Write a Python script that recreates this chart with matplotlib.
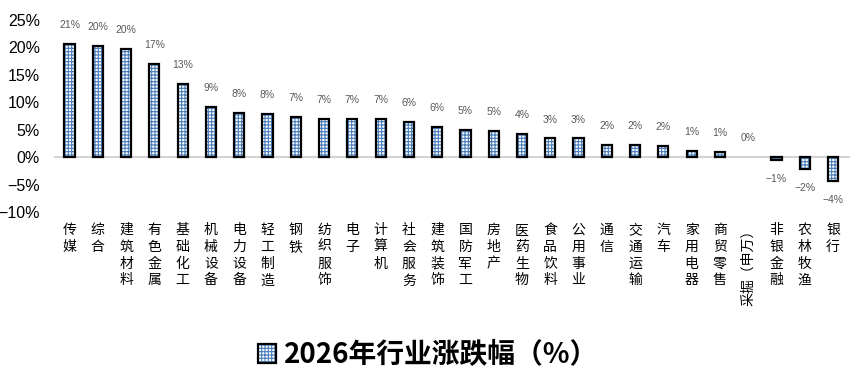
"""
2026 industry returns, bar chart with grid-hatched bars.
"""
import matplotlib
matplotlib.use("Agg")
import matplotlib.pyplot as plt
from matplotlib.patches import Patch
from matplotlib.legend_handler import HandlerTuple
from matplotlib.ticker import FuncFormatter

plt.rcParams['font.family'] = ['Noto Sans CJK SC', 'DejaVu Sans']
plt.rcParams['hatch.linewidth'] = 0.8

industries = ["传媒", "综合", "建筑材料", "有色金属", "基础化工", "机械设备", "电力设备",
              "轻工制造", "钢铁", "纺织服饰", "电子", "计算机", "社会服务", "建筑装饰",
              "国防军工", "房地产", "医药生物", "食品饮料", "公用事业", "通信", "交通运输",
              "汽车", "家用电器", "商贸零售", "采掘（申万）", "非银金融", "农林牧渔", "银行"]
returns = [20.7, 20.3, 19.8, 17.0, 13.4, 9.1, 8.0,
           7.9, 7.4, 7.0, 7.0, 7.0, 6.4, 5.5,
           4.9, 4.7, 4.3, 3.4, 3.4, 2.3, 2.3,
           2.0, 1.2, 0.9, 0.0, -0.6, -2.2, -4.3]
y_ticks = [-10, -5, 0, 5, 10, 15, 20, 25]
legend_label = "2026年行业涨跌幅（%）"

HATCH_BLUE = "#4a7ebb"


def pct(v):
  return f"{v:.0f}%".replace("-", "−")


fig = plt.figure(figsize=(8.56, 3.81), dpi=100)
ax = fig.add_axes([54 / 856, 1 - 212 / 381, 796 / 856, 192 / 381])

x = list(range(len(industries)))
ax.bar(x, returns, width=0.36, color="white", edgecolor=HATCH_BLUE,
       hatch="+++++", linewidth=0, zorder=2)
# zero-height bars get no outline
edge_widths = [1.6 if v != 0 else 0 for v in returns]
ax.bar(x, returns, width=0.36, fill=False, edgecolor="black",
       linewidth=edge_widths, zorder=3)
ax.axhline(0, color="#d4d4d4", linewidth=1.5, zorder=1)

for xi, v in zip(x, returns):
  if v < 0:
    ax.annotate(pct(v), (xi, v), xytext=(0, -10), textcoords="offset points",
                ha="center", va="top", fontsize=7.5, color="#595959",
                family="Liberation Sans")
  else:
    ax.annotate(pct(v), (xi, v), xytext=(0, 10), textcoords="offset points",
                ha="center", va="bottom", fontsize=7.5, color="#595959",
                family="Liberation Sans")

ax.set_xlim(-0.55, len(industries) - 0.4)
ax.set_ylim(-10, 25)
ax.set_yticks(y_ticks)
ax.yaxis.set_major_formatter(FuncFormatter(lambda v, p: pct(v)))
for lab in ax.get_yticklabels():
  lab.set_family("Liberation Sans")
  lab.set_fontsize(11.5)
ax.set_xticks(x)
tick_texts = [name if "（" in name else "\n".join(name) for name in industries]
ax.set_xticklabels(tick_texts, fontsize=10, linespacing=1.25, va="top")
for lab, name in zip(ax.get_xticklabels(), industries):
  if "（" in name:
    lab.set_rotation(90)
ax.tick_params(axis="x", length=0, pad=8)
ax.tick_params(axis="y", length=0, pad=10)
for spine in ax.spines.values():
  spine.set_visible(False)

h_fill = Patch(facecolor="white", edgecolor=HATCH_BLUE, hatch="+++++", linewidth=0)
h_edge = Patch(fill=False, edgecolor="black", linewidth=1.6)
fig.legend([(h_fill, h_edge)], [legend_label], loc="center",
           bbox_to_anchor=(0.5, 1 - 355 / 381), frameon=False,
           handler_map={tuple: HandlerTuple(ndivide=1)},
           handlelength=0.65, handleheight=0.65, handletextpad=0.3,
           prop={"size": 20, "weight": "bold",
                 "family": ["Noto Sans CJK SC", "DejaVu Sans"]})

fig.savefig("out.png", dpi=100)
